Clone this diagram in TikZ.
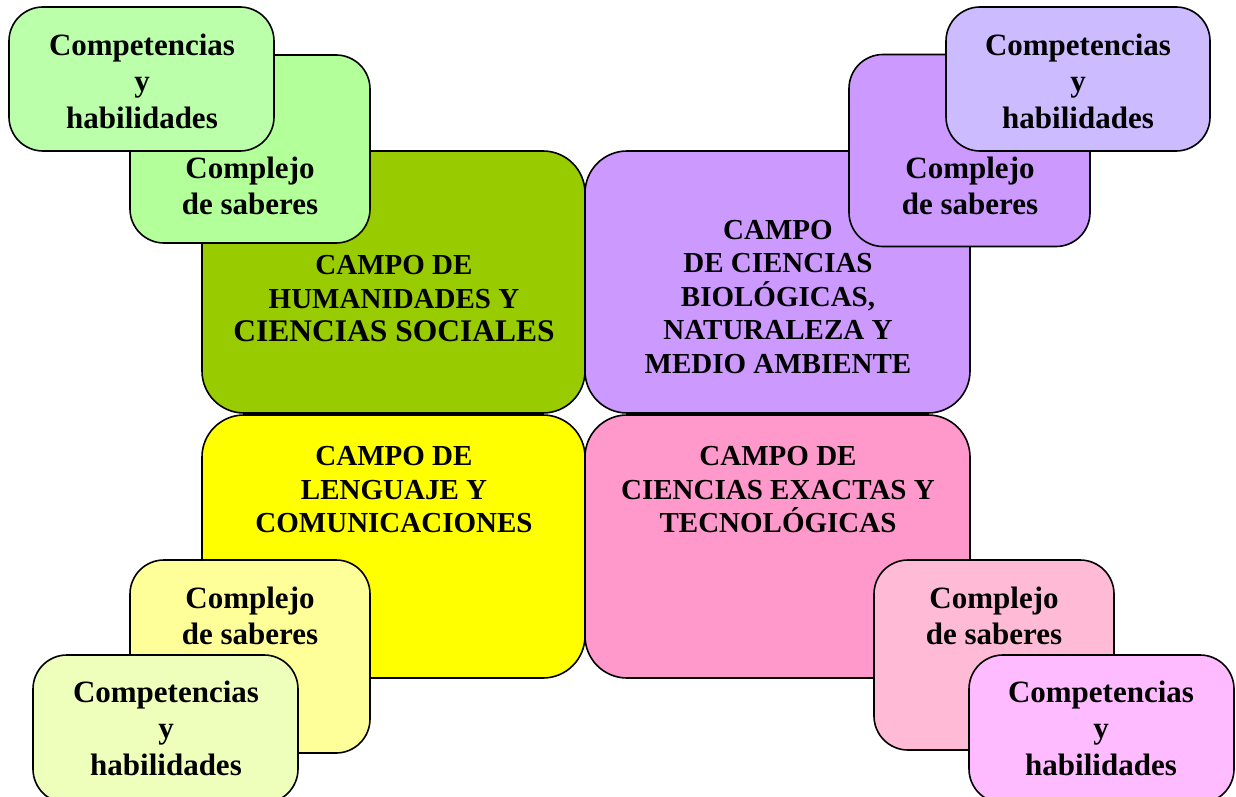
\documentclass[tikz,border=0pt]{standalone}
\usepackage{fontspec}
\setmainfont{Liberation Serif}
\definecolor{hbig}{HTML}{99CC00}
\definecolor{bbig}{HTML}{CC99FF}
\definecolor{lbig}{HTML}{FFFF00}
\definecolor{ebig}{HTML}{FF99CC}
\definecolor{tlcx}{HTML}{B3FF99}
\definecolor{tlcp}{HTML}{BBFFAA}
\definecolor{trcx}{HTML}{CC99FF}
\definecolor{trcp}{HTML}{CCBBFF}
\definecolor{blcx}{HTML}{FFFF99}
\definecolor{blcp}{HTML}{EEFFBB}
\definecolor{brcx}{HTML}{FFBBD5}
\definecolor{brcp}{HTML}{FFBBFF}
\begin{document}
\begin{tikzpicture}[x=1pt,y=-1pt,
  bigbox/.style={draw=black,line width=1.6pt,rounded corners=42pt,inner sep=0pt,outer sep=0pt},
  smallbox/.style={draw=black,line width=1.6pt,rounded corners=34pt,inner sep=0pt,outer sep=0pt},
  campotxt/.style={align=center,inner sep=0pt,font=\bfseries\fontsize{29}{33.5}\selectfont},
  smalltxt/.style={align=center,inner sep=0pt,font=\bfseries\fontsize{31}{36.5}\selectfont}]
\useasboundingbox (0,0) rectangle (1236,797);
\clip (0,0) rectangle (1236,797);
\fill[white] (0,0) rectangle (1236,797);
% big boxes
\node[bigbox,fill=hbig,minimum width=383pt,minimum height=262pt] (hum) at (393.5,282) {};
\node[bigbox,fill=bbig,minimum width=385pt,minimum height=262pt] (bio) at (777.5,282) {};
\node[bigbox,fill=lbig,minimum width=383pt,minimum height=263pt] (len) at (393.5,546.5) {};
\node[bigbox,fill=ebig,minimum width=385pt,minimum height=263pt] (exa) at (777.5,546.5) {};
\node[campotxt] (humt) at (394,299) {CAMPO DE\\HUMANIDADES Y\\{\fontsize{31.5}{35}\selectfont CIENCIAS SOCIALES}};
\node[campotxt] (biot) at (778,297) {CAMPO\\DE CIENCIAS\\BIOLÓGICAS,\\NATURALEZA Y\\MEDIO AMBIENTE};
\node[campotxt] (lent) at (394,490) {CAMPO DE\\LENGUAJE Y\\COMUNICACIONES};
\node[campotxt] (exat) at (778,490) {CAMPO DE\\CIENCIAS EXACTAS Y\\TECNOLÓGICAS};
% top-left
\node[smallbox,fill=tlcx,minimum width=240pt,minimum height=188pt] (tlcx) at (250,149) {};
\node[smalltxt] (tlcxt) at (250,186) {Complejo\\de saberes};
\node[smallbox,fill=tlcp,minimum width=265pt,minimum height=144pt] (tlcp) at (141.5,79) {};
\node[smalltxt] (tlcpt) at (142,81) {Competencias\\y\\habilidades};
% top-right
\node[smallbox,fill=trcx,minimum width=241pt,minimum height=192pt] (trcx) at (969.5,150.5) {};
\node[smalltxt] (trcxt) at (970,186) {Complejo\\de saberes};
\node[smallbox,fill=trcp,minimum width=264pt,minimum height=144pt] (trcp) at (1078,79) {};
\node[smalltxt] (trcpt) at (1078,81) {Competencias\\y\\habilidades};
% bottom-left
\node[smallbox,fill=blcx,minimum width=240pt,minimum height=193pt] (blcx) at (250,656.5) {};
\node[smalltxt] (blcxt) at (250,616) {Complejo\\de saberes};
\node[smallbox,fill=blcp,minimum width=265pt,minimum height=148pt] (blcp) at (165.5,729) {};
\node[smalltxt] (blcpt) at (166,728) {Competencias\\y\\habilidades};
% bottom-right
\node[smallbox,fill=brcx,minimum width=240pt,minimum height=190pt] (brcx) at (994,655) {};
\node[smalltxt] (brcxt) at (994,616) {Complejo\\de saberes};
\node[smallbox,fill=brcp,minimum width=265pt,minimum height=148pt] (brcp) at (1101.5,729) {};
\node[smalltxt] (brcpt) at (1101,728) {Competencias\\y\\habilidades};
\end{tikzpicture}
\end{document}
